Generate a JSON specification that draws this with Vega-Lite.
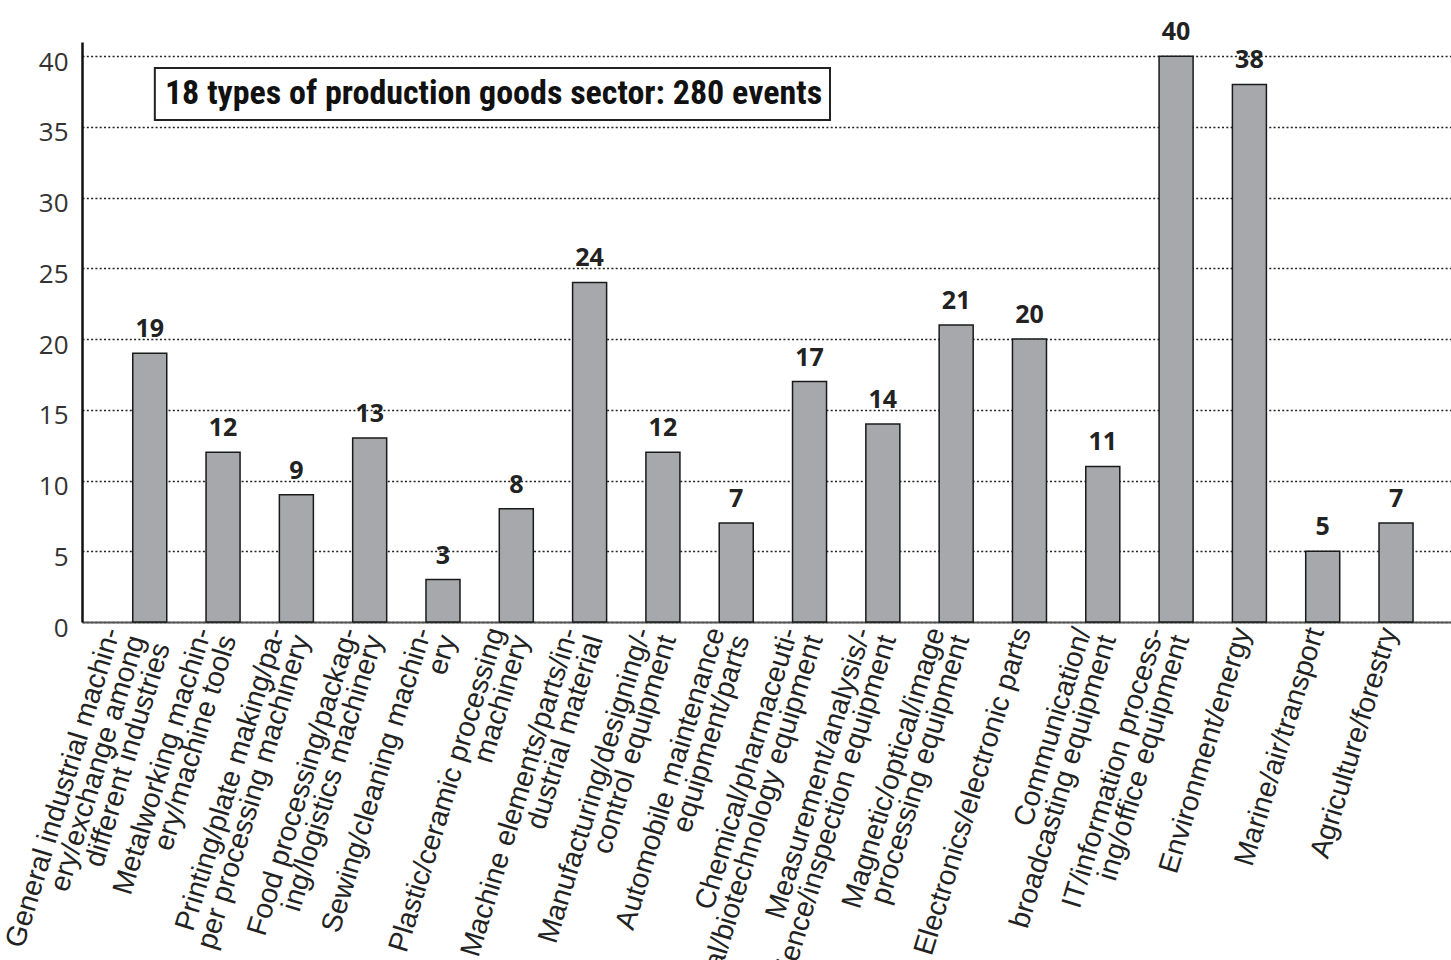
{
  "$schema": "https://vega.github.io/schema/vega-lite/v6.json",
  "width": 1369,
  "height": 580,
  "autosize": {"type": "none"},
  "padding": {"left": 82, "top": 42, "right": 0, "bottom": 338},
  "background": "white",
  "config": {"view": {"stroke": null}},
  "datasets": {
    "bars": [
      {"category": "General industrial machin-|ery/exchange among|different industries", "count": 19},
      {"category": "Metalworking machin-|ery/machine tools", "count": 12},
      {"category": "Printing/plate making/pa-|per processing machinery", "count": 9},
      {"category": "Food processing/packag-|ing/logistics machinery", "count": 13},
      {"category": "Sewing/cleaning machin-|ery", "count": 3},
      {"category": "Plastic/ceramic processing|machinery", "count": 8},
      {"category": "Machine elements/parts/in-|dustrial material", "count": 24},
      {"category": "Manufacturing/designing/-|control equipment", "count": 12},
      {"category": "Automobile maintenance|equipment/parts", "count": 7},
      {"category": "Chemical/pharmaceuti-|cal/biotechnology equipment", "count": 17},
      {"category": "Measurement/analysis/-|science/inspection equipment", "count": 14},
      {"category": "Magnetic/optical/image|processing equipment", "count": 21},
      {"category": "Electronics/electronic parts", "count": 20},
      {"category": "Communication/|broadcasting equipment", "count": 11},
      {"category": "IT/information process-|ing/office equipment", "count": 40},
      {"category": "Environment/energy", "count": 38},
      {"category": "Marine/air/transport", "count": 5},
      {"category": "Agriculture/forestry", "count": 7}
    ],
    "note": [
      {"text": "18 types of production goods sector: 280 events", "x1": 0.07, "x2": 9.28, "xc": 4.69, "y1": 35.49, "y2": 39.16, "yc": 37.3}
    ]
  },
  "layer": [
    {
      "data": {"name": "bars"},
      "encoding": {
        "x": {
          "field": "category", "type": "nominal", "sort": null,
          "scale": {"paddingInner": 0.536, "paddingOuter": 0.605, "align": 0.572, "round": false},
          "axis": {
            "title": null, "ticks": false, "domainColor": "#555", "domainWidth": 2,
            "labelAngle": -73, "labelAlign": "right", "labelBaseline": "middle",
            "labelFont": "Liberation Sans", "labelFontSize": 28.5, "labelLineHeight": 26,
            "labelColor": "#222", "labelPadding": 6, "labelOverlap": false, "labelLimit": 0,
            "labelBound": false,
            "labelOffset": {
              "condition": [
                {"test": "length(split(datum.value, '|')) >= 3", "value": -38},
                {"test": "length(split(datum.value, '|')) == 2", "value": -20}
              ],
              "value": -7
            },
            "labelExpr": "split(datum.value, '|')"
          }
        },
        "y": {
          "field": "count", "type": "quantitative",
          "scale": {"domain": [0, 41], "nice": false},
          "axis": {
            "title": null, "values": [0, 5, 10, 15, 20, 25, 30, 35, 40],
            "ticks": false, "domainColor": "#111", "domainWidth": 2.5,
            "grid": true, "gridColor": "#222", "gridDash": [2, 2.3], "gridWidth": 1.5,
            "labelFont": "Open Sans", "labelFontSize": 26, "labelColor": "#333",
            "labelPadding": 14, "labelOffset": 6
          }
        }
      },
      "layer": [
        {"mark": {"type": "bar", "fill": "#a7a8ab", "stroke": "#1a1a1a", "strokeWidth": 1.5}},
        {
          "mark": {"type": "text", "dy": -16, "baseline": "alphabetic", "font": "Open Sans", "fontWeight": "bold", "fontSize": 25, "fill": "#222"},
          "encoding": {"text": {"field": "count", "type": "quantitative"}}
        }
      ]
    },
    {
      "data": {"name": "note"},
      "layer": [
        {
          "mark": {"type": "rect", "fill": "white", "stroke": "#222", "strokeWidth": 2},
          "encoding": {
            "x": {"field": "x1", "type": "quantitative", "scale": {"domain": [-0.9235, 17.751], "nice": false, "zero": false}, "axis": null},
            "x2": {"field": "x2"},
            "y": {"field": "y1", "type": "quantitative"},
            "y2": {"field": "y2"}
          }
        },
        {
          "mark": {"type": "text", "font": "Roboto Condensed", "fontWeight": "bold", "fontSize": 34, "fill": "#111", "baseline": "middle", "align": "center"},
          "encoding": {
            "x": {"field": "xc", "type": "quantitative", "scale": {"domain": [-0.9235, 17.751], "nice": false, "zero": false}, "axis": null},
            "y": {"field": "yc", "type": "quantitative"},
            "text": {"field": "text"}
          }
        }
      ]
    }
  ],
  "resolve": {"scale": {"x": "independent"}}
}
